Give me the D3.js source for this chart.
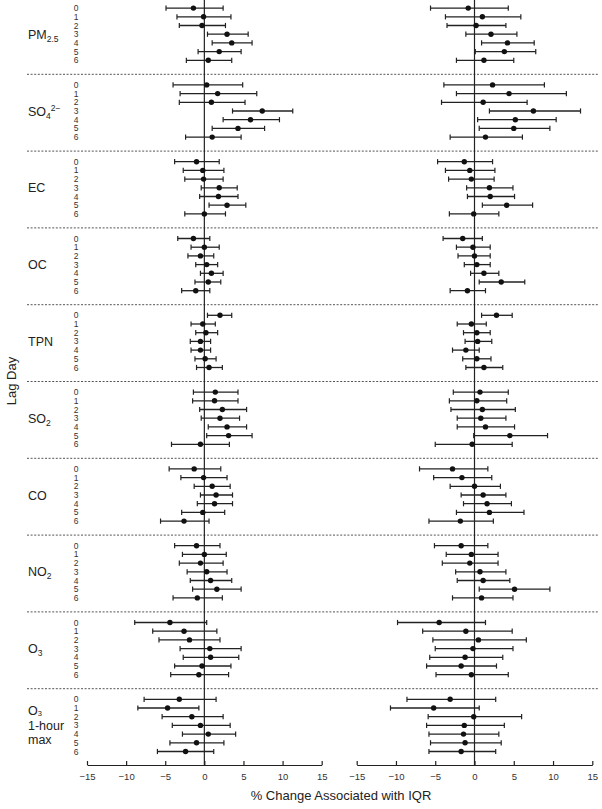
<!DOCTYPE html>
<html>
<head>
<meta charset="utf-8">
<script src="https://cdn.jsdelivr.net/npm/d3@7"></script>
<style>
  html, body { margin: 0; padding: 0; background: #fff; }
  svg { display: block; font-family: "Liberation Sans", Arial, sans-serif; }
</style>
</head>
<body>
<svg id="chart" width="602" height="809"></svg>
<script>
// ---------- DATA ----------
const pollutants = ["PM2.5", "SO4", "EC", "OC", "TPN", "SO2", "CO", "NO2", "O3", "O3max"];
const lags = [0, 1, 2, 3, 4, 5, 6];
const xTicks = [-15, -10, -5, 0, 5, 10, 15];

// Left panel: estimate, lower CI, upper CI (lag 0..6)
const leftEst = [
  [-1.4, -0.1, -0.3, 2.9, 3.5, 1.9, 0.5],
  [0.3, 1.7, 0.9, 7.4, 5.9, 4.3, 1.0],
  [-1.0, -0.2, -0.1, 1.9, 1.8, 2.9, 0.0],
  [-1.4, 0.0, -0.5, 0.3, 0.9, 0.5, -1.1],
  [2.0, -0.2, 0.2, -0.5, -0.5, 0.1, 0.6],
  [1.4, 1.3, 2.3, 2.0, 2.9, 3.1, -0.5],
  [-1.3, -0.1, 1.0, 1.5, 1.3, -0.2, -2.6],
  [-1.0, 0.0, -0.5, 0.3, 0.8, 1.6, -0.9],
  [-4.4, -2.6, -1.9, 0.7, 0.8, -0.3, -0.7],
  [-3.2, -4.7, -1.6, -0.5, 0.5, -1.0, -2.4]
];
const leftLo = [
  [-4.9, -3.5, -3.2, 0.4, 1.0, -0.8, -2.3],
  [-4.0, -3.1, -3.2, 3.6, 2.4, 1.0, -2.4],
  [-3.8, -2.7, -2.5, -0.4, -0.6, 0.6, -2.5],
  [-3.4, -1.7, -2.1, -1.1, -0.5, -1.2, -2.9],
  [0.4, -1.7, -1.1, -1.8, -1.7, -1.2, -1.0],
  [-1.4, -1.5, -0.6, -0.4, 0.5, 0.3, -4.2],
  [-4.5, -3.0, -1.3, -0.5, -0.9, -2.9, -5.6],
  [-3.8, -2.8, -3.2, -2.2, -1.8, -1.5, -4.0],
  [-8.9, -6.6, -5.8, -3.1, -2.7, -3.8, -4.3],
  [-7.7, -8.5, -5.4, -4.1, -2.8, -4.4, -6.0]
];
const leftHi = [
  [2.4, 3.4, 2.7, 5.6, 6.1, 4.7, 3.5],
  [4.9, 6.7, 5.2, 11.3, 9.6, 7.7, 4.7],
  [1.9, 2.5, 2.4, 4.2, 4.3, 5.3, 2.7],
  [0.7, 1.9, 1.2, 1.7, 2.4, 2.1, 0.7],
  [3.5, 1.4, 1.7, 0.8, 0.8, 1.5, 2.3],
  [4.3, 4.3, 5.4, 4.5, 5.4, 6.1, 3.2],
  [2.1, 2.9, 3.3, 3.6, 3.6, 2.6, 0.6],
  [2.0, 2.8, 2.4, 2.9, 3.5, 4.7, 2.3],
  [0.3, 1.6, 2.0, 4.7, 4.4, 3.4, 3.1],
  [1.5, -0.7, 2.4, 3.3, 4.0, 2.5, 1.2]
];

// Right panel: estimate, lower CI, upper CI (lag 0..6)
const rightEst = [
  [-0.8, 1.0, 0.2, 2.1, 4.2, 3.8, 1.2],
  [2.3, 4.4, 1.1, 7.5, 5.2, 5.0, 1.4],
  [-1.3, -0.6, -0.4, 1.9, 2.0, 4.1, -0.1],
  [-1.5, -0.2, 0.0, 0.3, 1.2, 3.4, -0.9],
  [2.8, -0.4, 0.3, 0.4, -1.1, 0.3, 1.2],
  [0.7, 0.3, 1.0, 0.8, 1.4, 4.5, -0.3],
  [-2.8, -1.6, 0.0, 1.1, 1.6, 1.9, -1.8],
  [-1.7, -0.4, -0.6, 0.7, 1.1, 5.1, 0.9],
  [-4.5, -1.1, 0.5, -0.2, -1.2, -1.7, -0.4],
  [-3.1, -5.2, -0.1, -1.3, -1.4, -1.2, -1.7]
];
const rightLo = [
  [-5.6, -3.7, -3.5, -1.1, 0.9, 0.1, -2.3],
  [-3.9, -2.3, -4.2, 1.9, 0.4, 0.6, -3.1],
  [-4.7, -3.7, -3.3, -1.0, -0.9, 1.0, -3.2],
  [-4.0, -2.3, -2.1, -1.3, -0.5, 0.6, -3.1],
  [0.9, -2.2, -1.4, -1.2, -2.8, -1.5, -1.1],
  [-2.7, -3.2, -3.0, -2.2, -2.2, -0.1, -5.0],
  [-7.0, -5.2, -3.1, -1.7, -1.4, -2.3, -5.8],
  [-5.1, -3.6, -4.1, -2.4, -2.2, 0.6, -2.8],
  [-9.8, -6.6, -5.3, -5.0, -5.7, -6.1, -4.9],
  [-8.6, -10.7, -5.9, -6.1, -5.8, -5.6, -5.8]
];
const rightHi = [
  [4.3, 5.9, 4.0, 5.4, 7.6, 7.8, 5.0],
  [8.9, 11.7, 6.7, 13.5, 10.4, 9.6, 6.1],
  [2.3, 2.6, 2.5, 4.9, 5.1, 7.4, 3.1],
  [1.0, 2.0, 2.0, 2.0, 3.1, 6.4, 1.4],
  [4.8, 1.5, 2.0, 2.2, 0.6, 2.1, 3.6],
  [4.3, 4.1, 5.2, 4.0, 5.1, 9.3, 4.8],
  [1.7, 2.2, 3.3, 4.0, 4.7, 6.3, 2.4],
  [1.7, 3.0, 3.0, 4.0, 4.5, 9.6, 4.9],
  [1.4, 4.8, 6.6, 4.9, 3.6, 2.8, 4.3],
  [2.7, 0.6, 6.0, 3.8, 3.1, 3.4, 2.7]
];

// ---------- LAYOUT ----------
const svg = d3.select("#chart");
const ink = "#222";
const axisY = 765;

const xLeft = d3.scaleLinear().domain([-15, 15]).range([87, 321.7]);
const xRight = d3.scaleLinear().domain([-15, 15]).range([356.7, 592.3]);

// group boundaries and rows
const gY = d3.scaleLinear().domain([0, pollutants.length]).range([-2.5, 765.5]);
const lagY = d3.scaleLinear().domain([0, 6]).range([10.6, 62.8]);
const rowY = (g, l) => gY(g) + lagY(l);

// dashed separators
for (let g = 1; g < pollutants.length; g++) {
  svg.append("line")
    .attr("x1", 27).attr("x2", 598)
    .attr("y1", gY(g)).attr("y2", gY(g))
    .attr("stroke", "#555").attr("stroke-width", 1)
    .attr("stroke-dasharray", "2,1.6");
}

// group labels
const labelX = 28;
const fs = 12.5;
function label(g, build) {
  const t = svg.append("text")
    .attr("x", labelX).attr("y", rowY(g, 3) + 4.5)
    .attr("font-size", fs).attr("fill", ink);
  build(t);
}
label(0, t => { t.append("tspan").text("PM"); t.append("tspan").attr("font-size", 8.5).attr("dy", 3).text("2.5"); });
label(1, t => {
  t.append("tspan").text("SO");
  t.append("tspan").attr("font-size", 8.5).attr("dy", 3).text("4");
  t.append("tspan").attr("font-size", 8.5).attr("dy", -8).text("2\u2212");
});
label(2, t => t.text("EC"));
label(3, t => t.text("OC"));
label(4, t => t.text("TPN"));
label(5, t => { t.append("tspan").text("SO"); t.append("tspan").attr("font-size", 8.5).attr("dy", 3).text("2"); });
label(6, t => t.text("CO"));
label(7, t => { t.append("tspan").text("NO"); t.append("tspan").attr("font-size", 8.5).attr("dy", 3).text("2"); });
label(8, t => { t.append("tspan").text("O"); t.append("tspan").attr("font-size", 8.5).attr("dy", 3).text("3"); });
// O3 1-hour max (three lines)
{
  const cy = rowY(9, 3);
  const t1 = svg.append("text").attr("x", labelX).attr("y", cy - 15 + 4.5)
    .attr("font-size", fs).attr("fill", ink);
  t1.append("tspan").text("O");
  t1.append("tspan").attr("font-size", 7.5).attr("dy", 1.5).text("3");
  svg.append("text").attr("x", labelX).attr("y", cy + 0.5 + 4.5)
    .attr("font-size", fs).attr("fill", ink).text("1-hour");
  svg.append("text").attr("x", labelX).attr("y", cy + 14 + 4.5)
    .attr("font-size", fs).attr("fill", ink).text("max");
}

// lag digits
pollutants.forEach((p, g) => {
  svg.append("g").selectAll("text").data(lags).join("text")
    .attr("x", 76).attr("y", l => rowY(g, l) + 3)
    .attr("text-anchor", "middle")
    .attr("font-size", 8.5).attr("fill", "#333")
    .text(d => d);
});

// Lag Day title
svg.append("text")
  .attr("transform", "translate(16,381) rotate(-90)")
  .attr("text-anchor", "middle")
  .attr("font-size", 13).attr("fill", ink)
  .text("Lag Day");

// panels
function panel(x, est, lo, hi) {
  const g = svg.append("g");
  // zero line
  g.append("line")
    .attr("x1", x(0)).attr("x2", x(0))
    .attr("y1", 0).attr("y2", axisY)
    .attr("stroke", ink).attr("stroke-width", 1.2);

  const rows = [];
  pollutants.forEach((p, gi) => lags.forEach((l, li) => {
    rows.push({ y: rowY(gi, li), e: est[gi][li], lo: lo[gi][li], hi: hi[gi][li] });
  }));

  g.selectAll("line.ci").data(rows).join("line")
    .attr("class", "ci")
    .attr("x1", d => x(d.lo)).attr("x2", d => x(d.hi))
    .attr("y1", d => d.y).attr("y2", d => d.y)
    .attr("stroke", ink).attr("stroke-width", 1.3);
  g.selectAll("line.capl").data(rows).join("line")
    .attr("class", "capl")
    .attr("x1", d => x(d.lo)).attr("x2", d => x(d.lo))
    .attr("y1", d => d.y - 2.6).attr("y2", d => d.y + 2.6)
    .attr("stroke", ink).attr("stroke-width", 1.2);
  g.selectAll("line.caph").data(rows).join("line")
    .attr("class", "caph")
    .attr("x1", d => x(d.hi)).attr("x2", d => x(d.hi))
    .attr("y1", d => d.y - 2.6).attr("y2", d => d.y + 2.6)
    .attr("stroke", ink).attr("stroke-width", 1.2);
  g.selectAll("circle").data(rows).join("circle")
    .attr("cx", d => x(d.e)).attr("cy", d => d.y)
    .attr("r", 2.7).attr("fill", "#111");

  // axis
  const ax = g.append("g").attr("transform", `translate(0,${axisY})`)
    .call(d3.axisBottom(x).tickValues(xTicks).tickSizeInner(-4).tickSizeOuter(0)
      .tickPadding(8).tickFormat(d => d < 0 ? "\u2212" + Math.abs(d) : d));
  ax.select(".domain").attr("stroke", ink).attr("stroke-width", 1.2);
  ax.selectAll(".tick line").attr("stroke", ink).attr("stroke-width", 1.2);
  ax.selectAll(".tick text").attr("font-size", 9.5).attr("fill", "#333")
    .attr("font-family", "'Liberation Sans', Arial, sans-serif");
}
panel(xLeft, leftEst, leftLo, leftHi);
panel(xRight, rightEst, rightLo, rightHi);

// x title
svg.append("text")
  .attr("x", 341).attr("y", 800)
  .attr("text-anchor", "middle")
  .attr("font-size", 13).attr("fill", ink)
  .text("% Change Associated with IQR");
</script>
</body>
</html>
